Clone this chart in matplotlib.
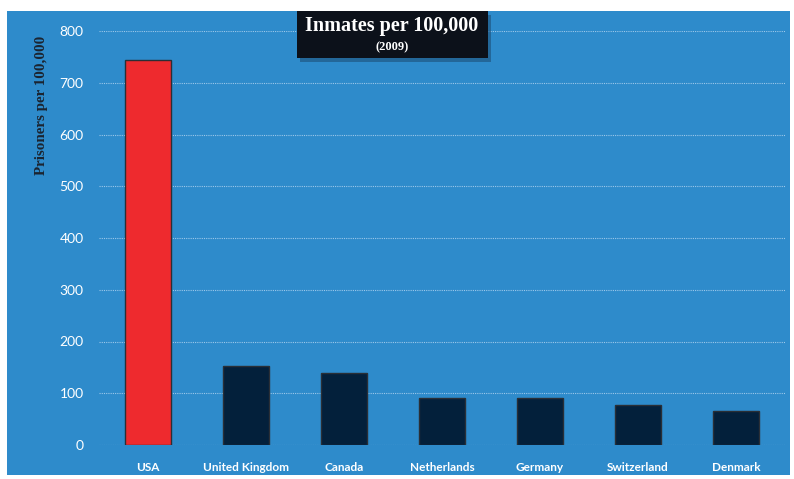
import matplotlib
matplotlib.use("Agg")
import matplotlib.pyplot as plt
from matplotlib.patches import Rectangle

# Prison population per 100,000 residents, 2009
countries = ["USA", "United Kingdom", "Canada", "Netherlands", "Germany", "Switzerland", "Denmark"]
inmates = [743, 152, 139, 91, 90, 78, 66]
bar_colors = ["#ee2a2e"] + ["#03203b"] * 6
yticks = [0, 100, 200, 300, 400, 500, 600, 700, 800]

bg_blue = "#2e8bcb"

fig = plt.figure(figsize=(7.94, 4.79), dpi=100)
fig.patch.set_facecolor("white")

W, H = 794, 479
def fx(px):
    return px / W
def fy(py):
    return 1 - py / H

# blue panel behind everything
fig.patches.append(Rectangle((fx(7), fy(475)), fx(790) - fx(7), fy(11) - fy(475),
                             transform=fig.transFigure, facecolor=bg_blue,
                             edgecolor="none", zorder=-10))

ax = fig.add_axes([fx(99), fy(445), fx(785) - fx(99), fy(31) - fy(445)])
ax.set_facecolor("none")

x = range(len(countries))
ax.bar(x, inmates, width=0.47, color=bar_colors, edgecolor="#2a2f36", linewidth=1.0, zorder=3)

ax.set_xlim(-0.5, 6.5)
ax.set_ylim(0, 800)
ax.set_yticks(yticks)
ax.set_xticks(list(x))
ax.set_xticklabels(countries, fontfamily="Lato", fontweight="bold", fontsize=8.5, color="white")
ax.set_yticklabels([str(v) for v in yticks], fontfamily="Lato", fontsize=10, color="white")
ax.tick_params(axis="both", length=0)
ax.tick_params(axis="y", pad=11)
ax.tick_params(axis="x", pad=12)

ax.yaxis.grid(True, color="#9cc8ea", linestyle=(0, (1, 1)), linewidth=0.8, zorder=1)
ax.set_axisbelow(True)
for s in ax.spines.values():
    s.set_visible(False)

# axis title sits near the top of the axis
fig.text(fx(42), fy(105), "Prisoners per 100,000", rotation=90, ha="center", va="center",
         fontfamily="Liberation Serif", fontweight="bold", fontsize=10.8, color="#1b2430")

# title box with drop shadow
fig.patches.append(Rectangle((fx(300), fy(62)), fx(491) - fx(300), fy(11) - fy(58),
                             transform=fig.transFigure, facecolor="#1d4f78",
                             edgecolor="none", alpha=0.6, zorder=4))
fig.patches.append(Rectangle((fx(297), fy(58)), fx(488) - fx(297), fy(11) - fy(58),
                             transform=fig.transFigure, facecolor="#0c111a",
                             edgecolor="none", zorder=5))
fig.text(fx(392), fy(26), "Inmates per 100,000", ha="center", va="center",
         fontfamily="Liberation Serif", fontweight="bold", fontsize=14.5, color="white", zorder=6)
fig.text(fx(392), fy(47), "(2009)", ha="center", va="center",
         fontfamily="Liberation Serif", fontweight="bold", fontsize=9, color="white", zorder=6)

fig.savefig("out.png", dpi=100)
